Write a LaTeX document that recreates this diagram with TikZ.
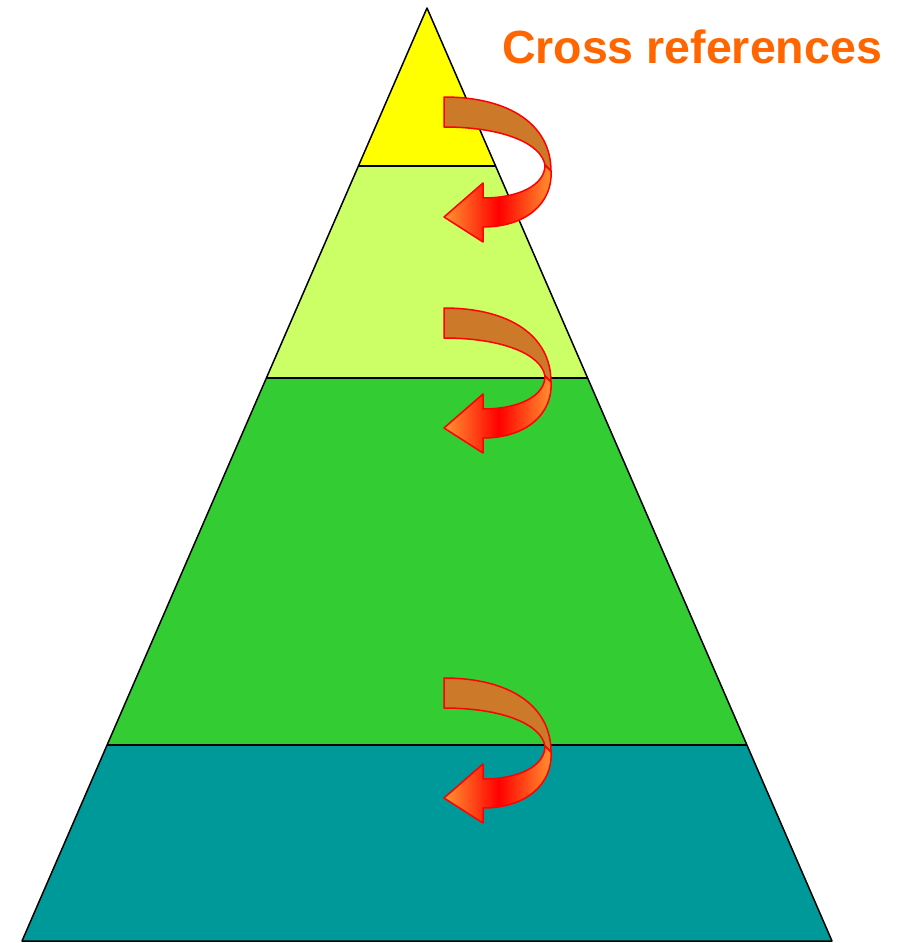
\documentclass[tikz,border=0pt]{standalone}
\usepackage{fontspec}
\usepackage{tikz}
\setmainfont{Liberation Sans}
\definecolor{topband}{RGB}{255,255,0}
\definecolor{lightband}{RGB}{204,255,102}
\definecolor{midband}{RGB}{51,204,51}
\definecolor{baseband}{RGB}{0,153,153}
\definecolor{arrowback}{RGB}{204,122,41}
\definecolor{arrowlight}{RGB}{255,150,50}
\definecolor{titleorange}{RGB}{255,102,0}

\begin{document}
\begin{tikzpicture}[x=1pt, y=-1pt]
        \tikzstyle{band} = [draw=black, line width=1.5pt, line join=round]
        \tikzstyle{backpart} = [draw=red, line width=1.5pt, line join=round, fill=arrowback]
        \tikzstyle{frontpart} = [draw=red, line width=1.5pt, line join=round, left color=arrowlight, right color=arrowlight, middle color=red]

\useasboundingbox (0,0) rectangle (901,943);

% pyramid bands
        \fill[baseband] (22,941) -- (832,941) -- (747,745) -- (107,745) -- cycle;
        \fill[midband] (107,745) -- (747,745) -- (587,378) -- (267,378) -- cycle;
        \fill[lightband] (267,378) -- (587,378) -- (496,166) -- (358,166) -- cycle;
        \fill[topband] (358,166) -- (496,166) -- (427,8) -- cycle;
        \draw[band] (427,8) -- (832,941) -- (22,941) -- cycle;
        \draw[band] (358,166) -- (496,166);
        \draw[band] (267,378) -- (587,378);
        \draw[band] (107,745) -- (747,745);

\node[anchor=base, inner sep=0pt, text=titleorange, font=\fontsize{46.5}{56}\selectfont\bfseries] (title) at (692,63) {Cross references};

% curved arrows
        \foreach \dy in {0,211,581} {
            \begin{scope}[shift={(444,97+\dy)}]
                \draw[backpart] (0,0) .. controls (66,0) and (107,28) .. (107,74)
                    -- (101,68) .. controls (97,46) and (58,30) .. (0,30) -- cycle;
                \draw[frontpart] (101,68) .. controls (101,88) and (75,101) .. (39,101)
                    -- (39,86) -- (0,120) -- (39,145) -- (39,130)
                    .. controls (82,130) and (109,106) .. (107,74) -- cycle;
            \end{scope}
        }

\end{tikzpicture}
\end{document}
